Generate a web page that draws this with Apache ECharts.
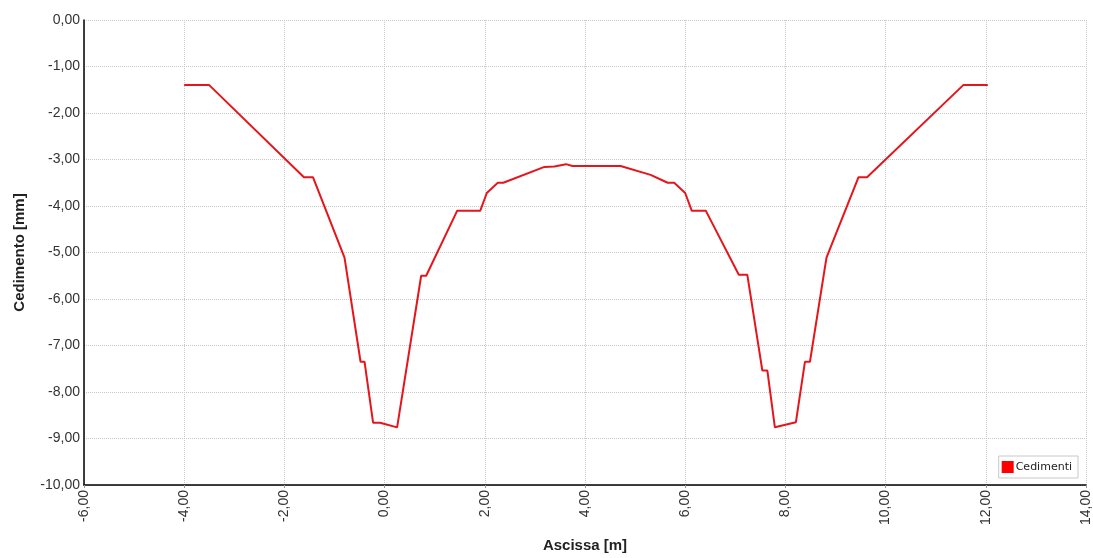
<!DOCTYPE html>
<html>
<head>
<meta charset="utf-8">
<script src="https://cdn.jsdelivr.net/npm/echarts@6/dist/echarts.min.js"></script>
<style>
html,body{margin:0;padding:0;background:#fff;}
#chart{width:1093px;height:558px;}
</style>
</head>
<body>
<div id="chart"></div>
<script>
const seriesName = 'Cedimenti';
const ascissa = [-4.00, -3.50, -1.61, -1.43, -0.80, -0.48, -0.40, -0.23, -0.09, 0.25, 0.73, 0.83, 1.45, 1.91, 2.04, 2.26, 2.37, 3.19, 3.39, 3.62, 3.75, 4.71, 5.31, 5.65, 5.78, 6.00, 6.13, 6.41, 7.07, 7.24, 7.54, 7.64, 7.79, 8.21, 8.39, 8.49, 8.82, 9.46, 9.63, 11.55, 12.04];
const cedimento = [-1.40, -1.40, -3.38, -3.38, -5.11, -7.35, -7.35, -8.66, -8.66, -8.76, -5.50, -5.50, -4.10, -4.10, -3.72, -3.50, -3.50, -3.16, -3.15, -3.10, -3.14, -3.14, -3.33, -3.50, -3.50, -3.72, -4.10, -4.10, -5.48, -5.48, -7.54, -7.54, -8.76, -8.65, -7.35, -7.35, -5.11, -3.38, -3.38, -1.40, -1.40];

const points = ascissa.map((x, i) => [x, cedimento[i]]);
const fmt = v => v.toFixed(2).replace('.', ',');

const chart = echarts.init(document.getElementById('chart'));
chart.setOption({
  animation: false,
  backgroundColor: '#ffffff',
  grid: { left: 84, right: 5, top: 20, bottom: 68, containLabel: false },
  legend: {
    data: [{ name: seriesName, icon: 'rect' }],
    right: 15, bottom: 80,
    itemWidth: 12, itemHeight: 12, itemGap: 2,
    padding: [5, 6, 5, 3],
    borderColor: '#c8c8c8', borderWidth: 1,
    textStyle: { fontFamily: 'DejaVu Sans', fontSize: 11, color: '#222', padding: [0, 0, 0, -3] }
  },
  xAxis: {
    type: 'value', min: -6, max: 14, interval: 2,
    name: 'Ascissa [m]', nameLocation: 'middle', nameGap: 53,
    nameTextStyle: { fontFamily: 'Liberation Sans', fontSize: 15, fontWeight: 'bold', color: '#222' },
    axisLine: { show: true, onZero: false, lineStyle: { color: '#000', width: 1.5 } },
    axisTick: { show: true, length: 3, lineStyle: { color: '#999' } },
    axisLabel: { rotate: 90, formatter: fmt, fontFamily: 'Liberation Sans', fontSize: 14, color: '#333', margin: 5, showMaxLabel: true, showMinLabel: true },
    splitLine: { show: true, lineStyle: { color: '#c8c8c8', type: [1, 1], width: 1 } }
  },
  yAxis: {
    type: 'value', min: -10, max: 0, interval: 1,
    name: 'Cedimento [mm]', nameLocation: 'middle', nameGap: 57, nameRotate: 90,
    nameTextStyle: { fontFamily: 'Liberation Sans', fontSize: 15, fontWeight: 'bold', color: '#222' },
    axisLine: { show: true, onZero: false, lineStyle: { color: '#000', width: 1.5 } },
    axisTick: { show: false },
    axisLabel: { formatter: fmt, fontFamily: 'Liberation Sans', fontSize: 14, color: '#333', margin: 4 },
    splitLine: { show: true, lineStyle: { color: '#c8c8c8', type: [1, 1], width: 1 } }
  },
  series: [{
    name: seriesName,
    type: 'line',
    data: points,
    showSymbol: false,
    symbol: 'none',
    itemStyle: { color: '#ff0000' },
    lineStyle: { color: '#e4161c', width: 2 }
  }]
});
</script>
</body>
</html>
